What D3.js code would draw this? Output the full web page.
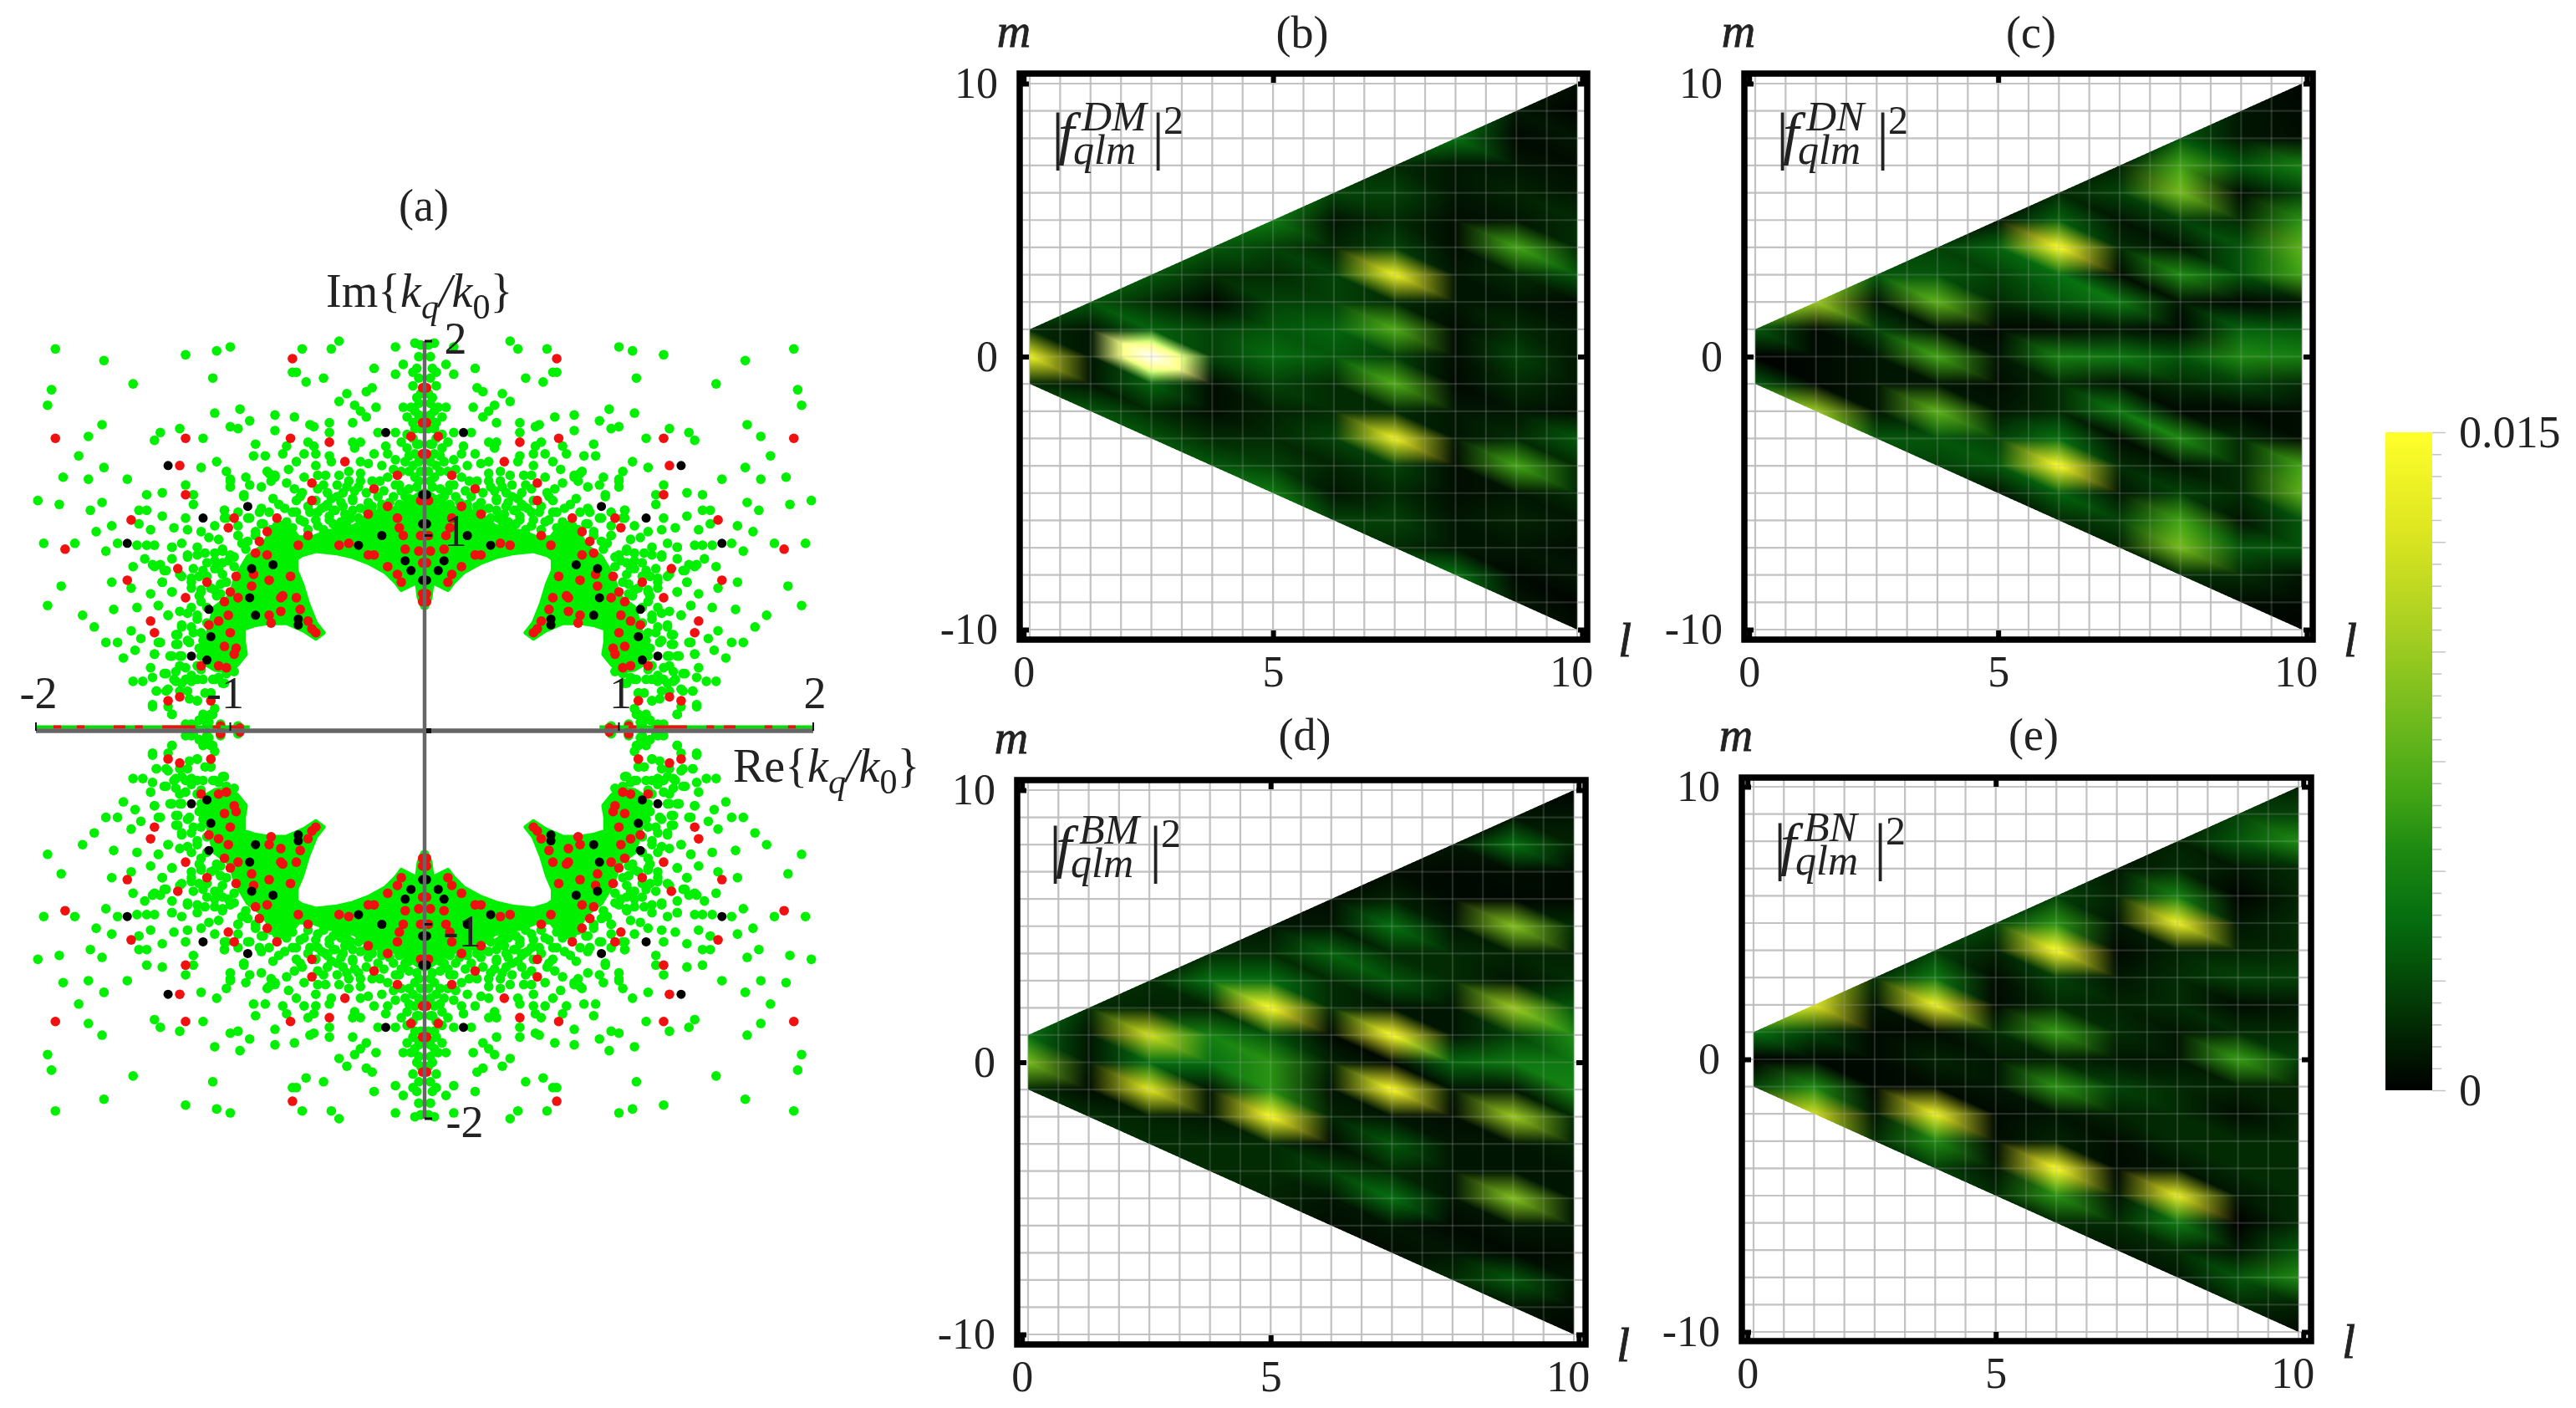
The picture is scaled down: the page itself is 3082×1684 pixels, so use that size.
<!DOCTYPE html>
<html>
<head>
<meta charset="utf-8">
<script src="https://cdn.jsdelivr.net/npm/d3@7"></script>
<style>
  html, body { margin: 0; background: #fff; }
  svg { display: block; filter: blur(0.7px); }
  text { font-family: "Liberation Serif", serif; fill: #222; }
</style>
</head>
<body>
<div id="chart"></div>
<script>
// Panel (a): one quadrant [Re, Im], the other three are mirrored
const greenPoints = [
  [-1.90,1.96],[-1.65,1.90],[-1.23,1.93],[-1.07,1.95],[-1.00,1.97],[-1.09,1.81],[-1.50,1.78],[-1.92,1.75],[-1.94,1.67],
  [-0.63,1.96],[-0.48,1.96],[-0.44,2.00],[-0.15,1.97],[-0.05,1.99],[-0.02,1.98],[-0.68,1.84],[-0.66,1.84],[-0.61,1.79],[-0.52,1.81],
  [-0.26,1.86],[-0.11,1.88],[-0.15,1.83],[-0.06,1.84],[-0.06,1.77],[-0.40,1.73],[-0.44,1.69],[-0.30,1.74],[-0.27,1.76],
  [-0.36,1.67],[-0.33,1.64],[-0.25,1.66],[-0.30,1.61],[-0.04,1.71],[-0.11,1.66],[-0.07,1.66],[-0.05,1.64],[-0.09,1.61],[-0.06,1.58],
  [-1.66,1.57],[-1.73,1.51],[-1.78,1.41],[-1.65,1.35],[-1.86,1.30],[-1.73,1.29],[-1.53,1.29],[-1.99,1.18],[-1.88,1.16],[-1.72,1.13],
  [-1.66,1.17],[-1.96,0.96],[-1.80,0.96],[-1.69,1.02],[-1.61,1.05],[-1.87,0.74],[-1.94,0.64],[-1.76,0.59],[-1.70,0.53],
  [-1.08,1.63],[-0.95,1.65],[-0.90,1.59],[-0.77,1.62],[-0.67,1.61],[-1.00,1.56],[-0.96,1.55],[-0.77,1.54],[-0.59,1.57],[-0.57,1.56],
  [-0.49,1.58],[-0.49,1.53],[-0.37,1.58],[-1.26,1.55],[-1.36,1.53],[-1.39,1.49],[-1.14,1.50],[-0.87,1.47],[-0.60,1.48],[-0.57,1.46],
  [-0.37,1.48],[-0.33,1.48],[-0.36,1.45],[-0.24,1.53],[-0.15,1.53],[-0.20,1.46],[-0.19,1.42],[-0.73,1.42],[-0.71,1.46],[-0.88,1.41],
  [-0.82,1.41],[-0.62,1.42],[-0.49,1.41],[-0.48,1.38],[-0.56,1.42],[-0.56,1.36],[-0.26,1.42],[-0.66,1.38],[-0.70,1.34],[-0.33,1.38],
  [-0.29,1.37],[-0.22,1.36],[-0.15,1.39],[-1.07,1.38],[-1.15,1.35],[-1.02,1.33],[-0.80,1.32],[-0.77,1.30],[-0.79,1.28],[-0.55,1.31],
  [-0.51,1.31],[-0.44,1.31],[-0.39,1.33],[-0.33,1.32],[-0.33,1.28],[-0.27,1.28],[-0.23,1.28],[-1.00,1.28],[-1.00,1.25],[-0.92,1.30],
  [-0.90,1.26],[-0.84,1.25],[-0.71,1.27],[-0.67,1.24],[-0.62,1.30],[-0.52,1.26],[-0.45,1.26],[-0.39,1.28],[-1.23,1.26],[-1.43,1.21],
  [-1.35,1.22],[-1.19,1.21],[-1.19,1.16],[-0.93,1.20],[-0.63,1.22],[-0.78,1.19],[-0.75,1.16],[-0.66,1.18],[-0.48,1.19],[-0.51,1.15],
  [-0.42,1.22],[-0.36,1.23],[-0.30,1.22],[-0.24,1.20],[-0.16,1.20],[-0.10,1.20],[-0.19,1.30],[-0.13,1.26],[-0.08,1.33],[-0.05,1.42],
  [-0.09,1.45],[-0.05,1.30],[-0.10,1.38],[-0.06,1.50],[-0.12,1.48],[-0.04,1.25],
  [-1.47,1.13],[-1.43,1.13],[-1.47,1.06],[-1.41,1.03],[-1.35,1.10],[-1.23,1.09],[-1.29,1.04],[-1.22,1.03],[-1.03,1.13],[-1.03,1.09],
  [-0.91,1.09],[-0.85,1.12],[-0.83,1.06],[-0.72,1.14],[-0.66,1.12],[-0.60,1.15],[-0.55,1.12],[-0.47,1.13],[-0.42,1.15],[-0.37,1.18],
  [-0.33,1.14],[-0.27,1.15],[-0.22,1.14],[-0.18,1.17],[-0.13,1.14],[-0.07,1.13],[-0.62,1.07],[-0.55,1.05],[-0.49,1.08],[-0.44,1.04],
  [-0.38,1.09],[-0.31,1.06],[-0.24,1.09],[-0.19,1.06],[-0.72,1.05],[-1.15,1.02],[-1.11,0.99],[-1.08,1.05],[-1.06,0.98],[-1.58,0.96],
  [-1.48,0.95],[-1.43,0.95],[-1.39,0.95],[-1.64,0.92],[-1.30,0.94],[-1.25,0.96],[-1.17,0.94],[-1.13,0.91],[-1.04,0.93],[-0.96,1.00],
  [-0.94,0.96],[-0.87,1.02],[-1.44,0.88],[-1.40,0.85],[-1.36,0.85],[-1.33,0.82],[-1.50,0.84],[-1.30,0.88],[-1.22,0.90],[-1.26,0.80],
  [-1.19,0.83],[-1.12,0.86],[-1.08,0.87],[-1.01,0.87],[-1.12,0.79],[-1.08,0.83],[-1.04,0.80],[-1.61,0.76],[-1.51,0.73],[-1.35,0.76],
  [-1.41,0.70],[-1.30,0.71],[-1.20,0.76],[-1.16,0.79],[-1.15,0.72],[-1.10,0.73],[-1.05,0.75],[-1.07,0.69],[-1.48,0.63],[-1.60,0.62],
  [-1.37,0.64],[-1.32,0.59],[-1.26,0.61],[-1.20,0.63],[-1.16,0.69],[-1.25,0.54],[-1.28,0.49],[-1.36,0.45],[-1.51,0.51],[-1.46,0.47],
  [-1.58,0.45],[-1.64,0.45],[-1.49,0.41],[-1.55,0.37],[-1.39,0.39],[-1.30,0.38],[-1.26,0.38],[-1.28,0.44],[-1.22,0.46],[-1.20,0.53],
  [-1.17,0.59],[-1.15,0.50],[-1.16,0.42],[-1.41,0.32],[-1.40,0.27],[-1.50,0.25],[-1.45,0.25],[-1.33,0.29],[-1.29,0.26],[-1.26,0.33],
  [-1.23,0.32],[-1.20,0.28],[-1.25,0.24],[-1.20,0.25],[-1.14,0.26],[-1.09,0.26],[-1.03,0.24],[-1.38,0.20],[-1.33,0.20],[-1.26,0.20],
  [-1.22,0.20],[-1.17,0.15],[-1.40,0.12],[-1.30,0.08],[-1.13,0.19],[-1.10,0.19],[-1.14,0.08],[-1.10,0.08],[-1.19,0.02],[-1.11,0.04],
  [-1.05,0.02],[-1.23,0.03],[-0.96,0.02],[-1.16,0.05],[-1.08,0.11],[-1.02,0.29],[-1.15,0.31],
  [-0.03,1.92],[-0.04,1.86],[-0.03,1.81],[-0.02,1.73],[-0.03,1.68],[-0.03,1.62],[-0.02,1.55],[-0.03,1.47],[-0.03,1.38],[-0.02,1.33],
  [-0.03,1.28],[-0.08,1.24],[-0.12,1.09],[-0.03,1.13],[-0.06,1.07],
  // second reading, closer look at the fan above the arc
  [-1.00,1.29],[-0.93,1.21],[-0.81,1.33],[-0.77,1.31],[-0.64,1.20],[-0.55,1.24],[-0.50,1.22],[-0.45,1.20],[-0.40,1.25],[-0.34,1.25],
  [-0.26,1.24],[-0.21,1.23],[-0.15,1.26],[-0.37,1.19],[-0.43,1.17],[-0.29,1.17],[-0.50,1.16],[-0.56,1.18],[-1.03,1.13],[-1.02,1.09],
  [-0.96,1.12],[-0.90,1.09],[-0.84,1.06],[-0.84,1.14],[-0.80,1.12],[-0.68,1.12],[-0.59,1.12],[-0.53,1.14],[-0.46,1.13],[-0.41,1.11],
  [-0.71,1.07],[-0.64,1.08],[-0.56,1.08],[-0.49,1.10],[-0.43,1.07],[-0.37,1.13],[-0.30,1.13],[-0.22,1.16],[-0.13,1.16],[-1.04,0.92],
  [-0.96,1.05],[-0.96,1.00],[-0.91,0.97],[-0.98,0.89],[-1.06,0.83],[-1.00,0.90],[-0.87,1.00],[-0.79,1.03],[-0.74,1.02],[-0.68,1.04],
  [-0.60,1.03],[-0.52,1.03],[-0.47,1.06],[-0.40,1.07],[-0.34,1.09],[-0.28,1.10],[-0.21,1.11],[-0.16,1.11],[-0.10,1.12],
  [-0.08,1.19],[-0.12,1.23],[-0.06,1.36],[-0.12,1.33],[-0.16,1.34],[-0.08,1.41],[-0.04,1.47],[-0.09,1.52],[-0.05,1.55],[-0.03,1.60],
  [-1.17,0.90],[-1.08,0.91],[-1.30,0.94],[-1.22,0.89],[-1.04,0.86],[-1.39,0.84],[-1.34,0.82],[-1.25,0.79],[-1.20,0.78],[-1.14,0.82],
  [-1.35,0.76],[-1.20,0.73],[-1.30,0.71],[-1.15,0.71],[-1.08,0.72],[-1.37,0.64],[-1.32,0.59],[-1.22,0.60],[-1.15,0.66],[-1.17,0.57],
  [-1.25,0.53],[-1.19,0.50],[-1.27,0.49],[-1.37,0.45],[-1.27,0.44],[-1.21,0.45],[-1.14,0.46],[-1.39,0.39],[-1.31,0.38],[-1.25,0.38],
  [-1.34,0.29],[-1.28,0.30],[-1.23,0.26],[-1.17,0.26],[-1.08,0.26],[-1.04,0.24],[-1.28,0.25],[-1.38,0.20],[-1.32,0.21],[-1.21,0.16],
  [-1.17,0.15],[-1.10,0.19],[-1.40,0.13],[-1.32,0.12],[-1.13,0.07],[-1.09,0.08],[-1.30,0.08],[-1.20,0.03],[-1.12,0.03],[-1.05,0.03],
  [-1.12,0.63],[-1.12,0.55],[-1.15,0.38],[-1.05,0.70],[-1.02,0.76],[-0.98,0.84],[-0.92,0.93],[-1.17,0.33],[-1.06,0.27],[-0.98,0.30]
];
const redPoints = [
  [-0.68,1.91],[-1.90,1.50],[-1.23,1.50],[-0.69,1.50],[-0.49,1.48],[-1.26,1.36],[-0.41,1.38],[-1.23,1.21],[-0.58,1.27],[-0.58,1.18],
  [-0.14,1.31],[-0.26,1.24],[-0.19,1.15],[-0.29,1.11],[-0.14,1.09],[-0.07,1.51],[-0.01,1.76],[-0.01,1.58],[-0.01,1.42],[-0.02,1.18],
  [-1.51,1.08],[-0.98,1.09],[-1.01,1.04],[-0.76,1.09],[-0.81,1.02],[-1.85,0.93],[-0.85,0.97],[-0.87,0.91],[-0.81,0.90],[-0.60,1.00],
  [-0.65,0.95],[-0.44,0.95],[-0.39,0.96],[-0.29,0.90],[-0.26,0.90],[-0.19,0.84],[-0.11,1.00],[-0.13,1.04],[-0.10,0.93],[-0.03,0.92],
  [-0.14,0.80],[-0.12,0.76],[-0.02,1.00],[-0.01,0.86],[-0.01,0.70],[-0.01,0.66],[-1.27,0.83],[-1.53,0.77],[-1.12,0.76],[-0.97,0.79],
  [-0.88,0.80],[-0.80,0.77],[-0.69,0.79],[-1.23,0.68],[-1.00,0.71],[-0.96,0.68],[-0.89,0.74],[-1.03,0.66],[-0.74,0.68],[-0.73,0.69],
  [-0.66,0.68],[-0.64,0.62],[-1.01,0.59],[-0.80,0.59],[-0.79,0.55],[-0.74,0.61],[-1.41,0.56],[-1.39,0.50],[-1.06,0.56],[-1.11,0.54],
  [-0.60,0.56],[-0.58,0.52],[-0.56,0.50],[-1.00,0.50],[-1.03,0.43],[-0.97,0.42],[-0.98,0.39],[-1.15,0.33],[-1.06,0.33],[-1.02,0.32],
  [-1.32,0.15],[-1.26,0.17],[-1.10,0.15],[-0.95,0.01],[-1.05,0.02]
];
const blackPoints = [
  [-1.32,1.36],[-0.91,1.15],[-1.14,1.09],[-1.53,0.96],[-0.20,1.53],[-0.22,1.00],[-0.34,0.95],[-0.01,1.21],[-0.01,1.06],[-0.10,0.87],
  [-0.07,0.82],[-0.01,0.77],[-0.89,0.83],[-0.78,0.85],[-0.90,0.68],[-1.11,0.62],[-0.87,0.59],[-0.65,0.57],[-0.65,0.54],[-1.10,0.48],
  [-1.20,0.38],[-1.12,0.36]
];
// Saturated green area, too crowded to read single points
const denseOutline = [
  [-0.01,0.63],[-0.03,0.68],[-0.04,0.76],[-0.12,0.72],[-0.15,0.76],[-0.20,0.81],[-0.29,0.86],[-0.37,0.89],[-0.46,0.91],[-0.56,0.92],
  [-0.63,0.90],[-0.66,0.88],[-0.66,0.82],[-0.63,0.75],[-0.60,0.65],[-0.56,0.55],[-0.52,0.50],[-0.56,0.47],[-0.62,0.51],[-0.71,0.55],
  [-0.80,0.55],[-0.87,0.54],[-0.93,0.52],[-0.93,0.45],[-0.92,0.39],[-0.96,0.34],[-1.00,0.30],[-1.08,0.31],[-1.13,0.34],[-1.13,0.44],
  [-1.10,0.56],[-1.08,0.63],[-1.00,0.69],[-0.97,0.79],[-0.91,0.89],[-0.83,0.95],[-0.77,1.06],[-0.71,1.07],[-0.65,0.99],[-0.58,0.99],
  [-0.50,1.02],[-0.36,1.05],[-0.28,1.12],[-0.18,1.13],[-0.08,1.18],[-0.01,1.23]
];
// Real axis: short red pieces inside the thin green strip
const stripExtent = [-2, -0.9];
const stripRed = [[-1.91,-1.87],[-1.79,-1.75],[-1.60,-1.54],[-1.49,-1.45],[-1.35,-1.18],[-1.09,-1.05],[-1.00,-0.93]];
const reTickLabels = [["-2",-2],["-1",-1],["1",1],["2",2]];
const imTickLabels = [["2",2],["1",1],["-1",-1],["-2",-2]];

// Panels (b)-(e): values in units of 0.001, rows for l = 1..10, each row from m = +l down to m = -l
const dmValues = [
  [1,14,1],
  [2,.5,.5,.5,2],
  [2,1,2.5,17,2.5,1,2],
  [2,1,.2,1.5,1.5,.3,.3,1,2],
  [3.5,1.5,1,1.5,2,2.8,1.5,.8,1,1.5,3.5],
  [1.5,.5,.8,1.5,1.5,2.5,2,1,1,1.5,.8,.5,1.5],
  [1,1.5,1,1.5,14,1,6.5,1.5,6.5,1,14,1.5,1,1.5,1],
  [3,.5,.5,.3,.3,.5,.5,.3,.3,.2,.5,.5,.3,.3,.5,.5,3],
  [.5,.2,.5,.8,.5,6,1,.5,1,1.5,1,.5,1,6,.5,.8,.5,.2,.5],
  [.3,.1,.5,.3,.5,1,1,2,.3,.5,.5,.5,.3,2,1,1,.5,.3,.5,.1,.3]
];
const dnValues = [
  [2,0,2],
  [9.5,.2,.2,.2,9.5],
  [2,.5,1.5,.5,.5,.5,2],
  [1.5,2,7,.5,6,.5,7,2,1.5],
  [.5,2.5,1.5,1,.2,.5,.3,.5,1.5,2,.5],
  [1,2.5,15,3,2,.3,4,1,1,3,15,2.5,1],
  [.8,1.5,.5,1,.3,3.5,.5,3.5,.5,3.5,.3,1,.5,1.5,.8],
  [2,6,8,1.5,.5,4.5,.5,.2,2,1,.2,4.5,.5,1.5,6,8,1],
  [.5,.5,2,.3,1,2,2,.2,2.5,4.5,1.5,.2,1,1,1,.5,2,1,.3],
  [.1,.2,.3,4,1.5,5,7,6,.5,2,4,1,.3,.3,6,7,2,2,.5,.2,.1]
];
const bmValues = [
  [3,8,1],
  [1,.5,.5,.3,1],
  [1,.8,12,3,13,.8,1],
  [1,3,.8,4,3,.5,.5,1,1],
  [.5,1,3,15,2,5,5,15,1,1,.8],
  [.3,.5,2.5,1,1,.2,.8,.5,.8,.3,1.5,.5,.3],
  [.3,.8,3,1,2,.5,15,.2,15,.5,2,1,3,.5,.3],
  [.5,.2,.2,.5,1,1,.5,.5,2.5,.5,.3,.5,.5,.5,.2,.5,1],
  [.5,3,.3,.2,8.5,.8,.5,9.5,1.5,3.5,.5,9.5,.5,.5,8.5,.5,.2,2,.5],
  [.1,.5,.8,.2,.2,1,.8,1,2,4.5,3.5,4,1,.8,.5,.5,.5,.3,.5,.3,.1]
];
const bnValues = [
  [3,0,1.5],
  [13,1.5,.2,4.5,12],
  [1,.5,.2,.2,.2,.5,1],
  [1.5,3.5,14,.3,.8,.3,14,4.5,1.5],
  [1.5,.8,.3,.2,1,.5,.5,.2,.3,.5,1],
  [1.5,5,15,1.5,1,5.5,.8,5,.5,.8,15,5,1],
  [.5,.8,.5,.2,.5,.8,1,.5,1.5,.8,.3,.2,.5,1,.5],
  [.8,1,4,14,.8,1,1,.5,.5,1,1,1,.5,13.5,3.5,1,.5],
  [1.5,2,.5,.1,.5,.8,1.5,.3,1,5.5,.8,.3,1,1,.5,0,.5,2,1],
  [.8,1.5,4.5,1,.8,1,1,1.5,.5,1,1.5,.8,.8,1,1,1,1,2,4.5,.8,.2]
];
const lTickValues = [0.9, 5, 10.08];
const lTickLabels = ["0", "5", "10"];
const mTickValues = [10, 0, -10];
const colorDomain = [0, 1, 2, 3, 4.5, 6, 7.5, 10, 12.5, 15];
const colorRange = ["#000000", "#022b03", "#04560a", "#067010", "#1e8a12", "#42a515", "#6ab81c", "#a8cf22", "#dde620", "#ffff2a"];
const barPositions = [0, 1.5, 3, 4, 5.5, 6.75, 8.25, 10.5, 12.75, 15];

const width = 3082;
const height = 1684;

const svg = d3.select("#chart").append("svg")
  .attr("width", width)
  .attr("height", height);

// ---- panel (a)
const reScale = d3.scaleLinear().domain([-2, 2]).range([43, 973]);
const imScale = d3.scaleLinear().domain([-2, 2]).range([1338, 408]);

const mirror = pts => pts.flatMap(([re, im]) => [[re, im], [-re, im], [re, -im], [-re, -im]]);

const panelA = svg.append("g");

[1, -1].forEach(sx => [1, -1].forEach(sy => {
  panelA.append("path")
    .attr("d", d3.line().x(d => reScale(sx * d[0])).y(d => imScale(sy * d[1]))(denseOutline) + "Z")
    .attr("fill", "#00f000")
    .attr("stroke", "#00f000")
    .attr("stroke-width", 5)
    .attr("stroke-linejoin", "round");
}));

const dots = (pts, r, color) => panelA.append("g")
  .selectAll("circle")
  .data(mirror(pts))
  .join("circle")
  .attr("cx", d => reScale(d[0]))
  .attr("cy", d => imScale(d[1]))
  .attr("r", r)
  .attr("fill", color);

dots(greenPoints, 5.8, "#00f000");
dots(redPoints, 5.8, "#f01010");
dots(blackPoints, 5.5, "#000");

// thin strip of points that lies on the real axis
[1, -1].forEach(sx => {
  panelA.append("line")
    .attr("x1", reScale(sx * stripExtent[0])).attr("x2", reScale(sx * stripExtent[1]))
    .attr("y1", imScale(0) - 3.5).attr("y2", imScale(0) - 3.5)
    .attr("stroke", "#00e000").attr("stroke-width", 4);
  panelA.selectAll(null)
    .data(stripRed)
    .join("line")
    .attr("x1", d => reScale(sx * d[0])).attr("x2", d => reScale(sx * d[1]))
    .attr("y1", imScale(0) - 3.5).attr("y2", imScale(0) - 3.5)
    .attr("stroke", "#f01010").attr("stroke-width", 4);
});

// axes
panelA.append("line")
  .attr("x1", reScale(-2)).attr("x2", reScale(2))
  .attr("y1", imScale(0) + 1).attr("y2", imScale(0) + 1)
  .attr("stroke", "#666").attr("stroke-width", 5.5);
panelA.append("line")
  .attr("x1", reScale(0)).attr("x2", reScale(0))
  .attr("y1", imScale(2)).attr("y2", imScale(-2))
  .attr("stroke", "#666").attr("stroke-width", 4.5);

// small black ticks
[-2, -1, 1, 2].forEach(v => {
  panelA.append("line")
    .attr("x1", reScale(v)).attr("x2", reScale(v))
    .attr("y1", imScale(0) - 9).attr("y2", imScale(0) + 1)
    .attr("stroke", "#111").attr("stroke-width", 2);
  panelA.append("line")
    .attr("x1", reScale(0)).attr("x2", reScale(0) + 9)
    .attr("y1", imScale(v)).attr("y2", imScale(v))
    .attr("stroke", "#111").attr("stroke-width", 3);
});
panelA.append("rect")
  .attr("x", reScale(0) + 2).attr("y", imScale(0) - 2)
  .attr("width", 6).attr("height", 6)
  .attr("fill", "#111");

const reLabelShift = { "-2": 3, "-1": -6, "1": 2, "2": 2 };
panelA.selectAll(null)
  .data(reTickLabels)
  .join("text")
  .attr("x", d => reScale(d[1]) + reLabelShift[d[0]])
  .attr("y", imScale(0) - 44)
  .attr("dy", "0.33em")
  .attr("text-anchor", "middle")
  .style("font-size", "54px")
  .text(d => d[0]);

const imLabelShift = { "2": [37, -3], "1": [37, -5], "-1": [45, 9], "-2": [48, 4] };
panelA.selectAll(null)
  .data(imTickLabels)
  .join("text")
  .attr("x", d => reScale(0) + imLabelShift[d[0]][0])
  .attr("y", d => imScale(d[1]) + imLabelShift[d[0]][1])
  .attr("dy", "0.33em")
  .attr("text-anchor", "middle")
  .style("font-size", "54px")
  .text(d => d[0]);

panelA.append("text")
  .attr("x", 507).attr("y", 246).attr("dy", "0.33em")
  .attr("text-anchor", "middle")
  .style("font-size", "54px")
  .text("(a)");

// Im{k_q/k_0} and Re{k_q/k_0}
function complexLabel(name, x, y) {
  const t = panelA.append("text").attr("x", x).attr("y", y).style("font-size", "56px");
  t.append("tspan").text(name + "{");
  t.append("tspan").style("font-style", "italic").text("k");
  t.append("tspan").attr("dy", 14).style("font-style", "italic").style("font-size", "42px").text("q");
  t.append("tspan").attr("dy", -14).style("font-style", "italic").text("/k");
  t.append("tspan").attr("dy", 14).style("font-size", "42px").text("0");
  t.append("tspan").attr("dy", -14).text("}");
}
complexLabel("Im", 390, 367);
complexLabel("Re", 877, 935);

// ---- panels (b)-(e)
const color = d3.scaleLinear().domain(colorDomain).range(colorRange).clamp(true);
const overRange = [460, 460, 250];

const panels = [
  { title: "(b)", sup: "DM", values: dmValues, frame: [1220, 88, 1899, 765], lx: [1232, 1887], my: [100, 753], titleX: 1558, titleY: 39, labelShift: 0 },
  { title: "(c)", sup: "DN", values: dnValues, frame: [2087, 88, 2767, 765], lx: [2100, 2754], my: [100, 753], titleX: 2430, titleY: 39, labelShift: 0 },
  { title: "(d)", sup: "BM", values: bmValues, frame: [1217, 933, 1897, 1608], lx: [1230, 1883], my: [945, 1596], titleX: 1561, titleY: 879, labelShift: 8 },
  { title: "(e)", sup: "BN", values: bnValues, frame: [2084, 930, 2765, 1604], lx: [2098, 2750], my: [941, 1593], titleX: 2433, titleY: 879, labelShift: 8 }
];

// Vertices are coloured from the values and the colours are blended linearly over the triangles
function drawHeat(p, x, y) {
  const [fx0, fy0, fx1, fy1] = p.frame;
  const ss = 2;
  const canvas = document.createElement("canvas");
  canvas.width = (fx1 - fx0) * ss;
  canvas.height = (fy1 - fy0) * ss;
  const ctx = canvas.getContext("2d");
  const img = ctx.createImageData(canvas.width, canvas.height);
  const rgb = (l, m) => {
    const value = p.values[l - 1][l - m];
    if (value > 15) return overRange;
    const c = d3.rgb(color(value));
    return [c.r, c.g, c.b];
  };
  for (let py = 0; py < canvas.height; py++) {
    const m = y.invert(fy0 + (py + 0.5) / ss);
    for (let px = 0; px < canvas.width; px++) {
      const l = x.invert(fx0 + (px + 0.5) / ss);
      if (l < 1 || l > 10 || Math.abs(m) > l) continue;
      const i = Math.min(Math.floor(l), 9);
      const j = Math.floor(m);
      const u = l - i;
      const v = m - j;
      let tri;
      if (j >= i) {
        // upper edge of the wedge, (i, j + 1) does not exist
        tri = [[rgb(i, i), 1 - u], [rgb(i + 1, i), u - v], [rgb(i + 1, i + 1), v]];
      } else if (u + v < 1) {
        tri = [[rgb(i, j), 1 - u - v], [rgb(i + 1, j), u], [rgb(i, j + 1), v]];
      } else {
        tri = [[rgb(i + 1, j + 1), u + v - 1], [rgb(i + 1, j), 1 - v], [rgb(i, j + 1), 1 - u]];
      }
      const k = (py * canvas.width + px) * 4;
      for (let c = 0; c < 3; c++) {
        img.data[k + c] = tri[0][0][c] * tri[0][1] + tri[1][0][c] * tri[1][1] + tri[2][0][c] * tri[2][1];
      }
      img.data[k + 3] = 255;
    }
  }
  ctx.putImageData(img, 0, 0);
  return canvas.toDataURL();
}

function drawGrid(g, p, x, y, stroke) {
  const [fx0, fy0, fx1, fy1] = p.frame;
  g.append("g").selectAll("line")
    .data(d3.range(1, 10.25, 0.5))
    .join("line")
    .attr("x1", d => x(d)).attr("x2", d => x(d))
    .attr("y1", fy0).attr("y2", fy1)
    .attr("stroke", stroke).attr("stroke-width", 2.2);
  g.append("g").selectAll("line")
    .data(d3.range(-10, 11))
    .join("line")
    .attr("x1", fx0).attr("x2", fx1)
    .attr("y1", d => y(d)).attr("y2", d => y(d))
    .attr("stroke", stroke).attr("stroke-width", 2.2);
}

panels.forEach(p => {
  const [fx0, fy0, fx1, fy1] = p.frame;
  const x = d3.scaleLinear().domain([1, 10]).range(p.lx);
  const y = d3.scaleLinear().domain([10, -10]).range(p.my);
  const g = svg.append("g");

  // grid shows solid on white and only faintly over the colours
  drawGrid(g, p, x, y, "#cbcbcb");
  g.append("image")
    .attr("x", fx0).attr("y", fy0)
    .attr("width", fx1 - fx0).attr("height", fy1 - fy0)
    .attr("href", drawHeat(p, x, y));
  drawGrid(g, p, x, y, "rgba(170,170,170,0.22)");

  // ticks and labels
  const bottom = g.append("g")
    .attr("transform", `translate(0,${fy1})`)
    .call(d3.axisBottom(x).tickValues(lTickValues).tickFormat((d, i) => lTickLabels[i]).tickSize(-11).tickPadding(19));
  bottom.selectAll("text").attr("dx", (d, i) => i === 2 ? -13 : 0);
  const left = g.append("g")
    .attr("transform", `translate(${fx0},0)`)
    .call(d3.axisLeft(y).tickValues(mTickValues).tickFormat(String).tickSize(-11).tickPadding(26));
  const top = g.append("g")
    .attr("transform", `translate(0,${fy0})`)
    .call(d3.axisTop(x).tickValues(lTickValues).tickFormat("").tickSize(-11));
  const right = g.append("g")
    .attr("transform", `translate(${fx1},0)`)
    .call(d3.axisRight(y).tickValues(mTickValues).tickFormat("").tickSize(-11));
  [bottom, left, top, right].forEach(a => {
    a.select(".domain").remove();
    a.selectAll("line").attr("stroke", "#000").attr("stroke-width", 6);
    a.selectAll("text").style("font-size", "52px").style("font-family", "Liberation Serif, serif").attr("fill", "#222");
  });

  g.append("rect")
    .attr("x", fx0).attr("y", fy0)
    .attr("width", fx1 - fx0).attr("height", fy1 - fy0)
    .attr("fill", "none").attr("stroke", "#000").attr("stroke-width", 7.5);

  g.append("text")
    .attr("x", p.titleX).attr("y", p.titleY).attr("dy", "0.33em")
    .attr("text-anchor", "middle")
    .style("font-size", "54px")
    .text(p.title);
  g.append("text")
    .attr("x", fx0 - 7).attr("y", fy0 - 46).attr("dy", "0.25em")
    .attr("text-anchor", "middle")
    .style("font-size", "56px").style("font-style", "italic")
    .attr("stroke", "#222").attr("stroke-width", 0.8)
    .text("m");
  g.append("text")
    .attr("x", fx1 + 45).attr("y", fy1 + 1).attr("dy", "0.33em")
    .attr("text-anchor", "middle")
    .style("font-size", "58px").style("font-style", "italic")
    .attr("stroke", "#222").attr("stroke-width", 0.8)
    .text("l");

  // |f_qlm^XX|^2, one text with placed pieces
  const bx = fx0 + 38;
  const by = fy0 + p.labelShift;
  const label = g.append("text");
  const piece = (dx, dy, size, italic, s) => label.append("tspan")
    .attr("x", bx + dx).attr("y", by + dy)
    .style("font-size", size + "px")
    .style("font-style", italic ? "italic" : "normal")
    .text(s);
  piece(0, 100, 76, false, "|");
  piece(8, 95, 70, true, "f");
  piece(36, 68, 50, true, p.sup);
  piece(26, 108, 50, true, "qlm");
  piece(120, 100, 76, false, "|");
  piece(134, 72, 48, false, "2");
});

// ---- colour bar
const barScale = d3.scaleLinear().domain([0, 15]).range([1304, 517]);
const gradient = svg.append("defs").append("linearGradient")
  .attr("id", "barGradient")
  .attr("x1", 0).attr("x2", 0).attr("y1", 1).attr("y2", 0);
gradient.selectAll("stop")
  .data(barPositions)
  .join("stop")
  .attr("offset", d => d / 15)
  .attr("stop-color", (d, i) => colorRange[i]);

svg.append("rect")
  .attr("x", 2854).attr("y", barScale(15))
  .attr("width", 56).attr("height", barScale(0) - barScale(15))
  .attr("fill", "url(#barGradient)");

const barAxis = svg.append("g")
  .attr("transform", "translate(2910,0)")
  .call(d3.axisRight(barScale)
    .tickValues(d3.range(0, 15.25, 0.5))
    .tickFormat(d => d === 15 ? "0.015" : d === 0 ? "0" : "")
    .tickSize(0)
    .tickPadding(32));
barAxis.select(".domain").remove();
barAxis.selectAll("line")
  .attr("x2", d => d % 2.5 === 0 ? 16 : 11)
  .attr("stroke", "#c4c4c4")
  .attr("stroke-width", 1.5);
barAxis.selectAll("text")
  .style("font-size", "54px")
  .style("font-family", "Liberation Serif, serif")
  .attr("fill", "#222");
</script>
</body>
</html>
